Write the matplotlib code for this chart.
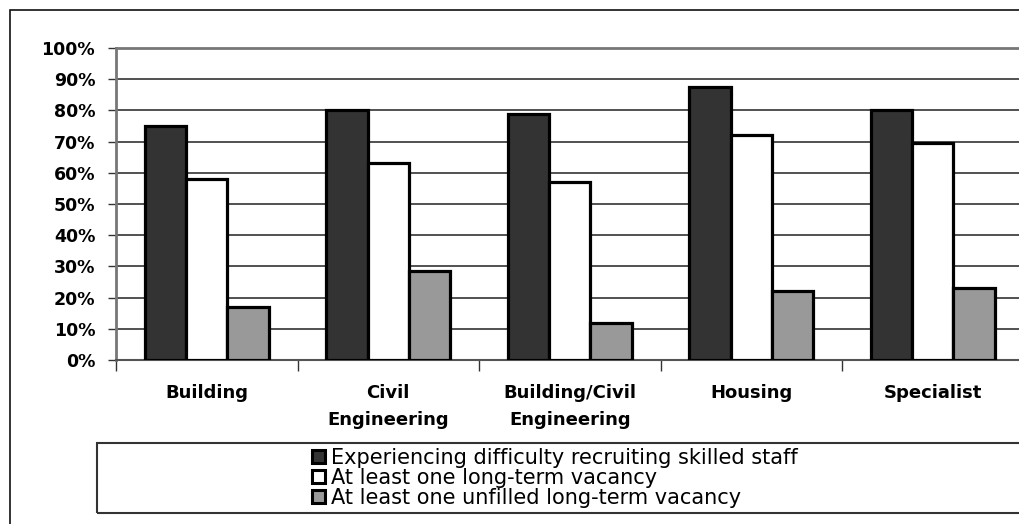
import matplotlib.pyplot as plt
from matplotlib.patches import Patch, Rectangle
from matplotlib.ticker import PercentFormatter
import numpy as np

plt.rcParams['font.family'] = ['DejaVu Sans']

# Data
categories = ['Building', 'Civil\nEngineering', 'Building/Civil\nEngineering', 'Housing', 'Specialist']
difficulty = [75, 80, 79, 87.5, 80]
long_term = [58, 63, 57, 72, 69.5]
unfilled = [17, 28.5, 12, 22, 23]

series_labels = ['Experiencing difficulty recruiting skilled staff',
                 'At least one long-term vacancy',
                 'At least one unfilled long-term vacancy']
colors = ['#333333', '#ffffff', '#999999']

fig = plt.figure(figsize=(10.2, 5.24), dpi=100)
ax = fig.add_axes([116 / 1020, 1 - 360 / 524, 907.5 / 1020, 312 / 524])

x = np.arange(len(categories))
w = 0.228
for i, (vals, c) in enumerate(zip([difficulty, long_term, unfilled], colors)):
    ax.bar(x + (i - 1) * w, vals, width=w, color=c, edgecolor='black',
           linewidth=2.3, zorder=3)

ax.set_xlim(-0.5, len(categories) - 0.5)
ax.set_ylim(0, 100)
ax.set_yticks(range(0, 101, 10))
ax.yaxis.set_major_formatter(PercentFormatter(decimals=0))
ax.yaxis.grid(True, color='#222222', linewidth=1.1, zorder=0)

# category labels in the middle, tick marks at the boundaries
ax.set_xticks(x)
ax.set_xticklabels(categories, fontsize=13, fontweight='bold', linespacing=1.65)
ax.tick_params(axis='x', length=0, pad=17)
ax.set_xticks(np.arange(len(categories) + 1) - 0.5, minor=True)
ax.tick_params(axis='x', which='minor', length=8, width=1, color='#333333')
ax.tick_params(axis='y', labelsize=12.5, length=6, width=1, color='#333333', pad=9)
for lab in ax.get_yticklabels():
    lab.set_fontweight('bold')

ax.spines['right'].set_visible(False)
ax.spines['left'].set_color('#777777')
ax.spines['left'].set_linewidth(2)
ax.spines['top'].set_color('#777777')
ax.spines['top'].set_linewidth(2)
ax.spines['bottom'].set_color('#555555')
ax.spines['bottom'].set_linewidth(1.5)

# outer chart border
fig.add_artist(Rectangle((10 / 1020, -0.1), 1.2, 1 - 10 / 524 + 0.1,
                         transform=fig.transFigure, fill=False,
                         edgecolor='#111111', linewidth=1.2))

# legend box
fig.add_artist(Rectangle((97 / 1020, 1 - 513 / 524), 1.2, 70 / 524,
                         transform=fig.transFigure, fill=False,
                         edgecolor='#333333', linewidth=1.5))
handles = [Patch(facecolor=c, edgecolor='black', linewidth=2.2) for c in colors]
fig.legend(handles, series_labels, loc='upper left',
           bbox_to_anchor=(312 / 1020, 1 - 448 / 524), frameon=False,
           fontsize=15, handlelength=0.6, handleheight=0.6,
           handletextpad=0.3, labelspacing=0.0, borderpad=0, borderaxespad=0)

fig.savefig('out.png', dpi=100)
